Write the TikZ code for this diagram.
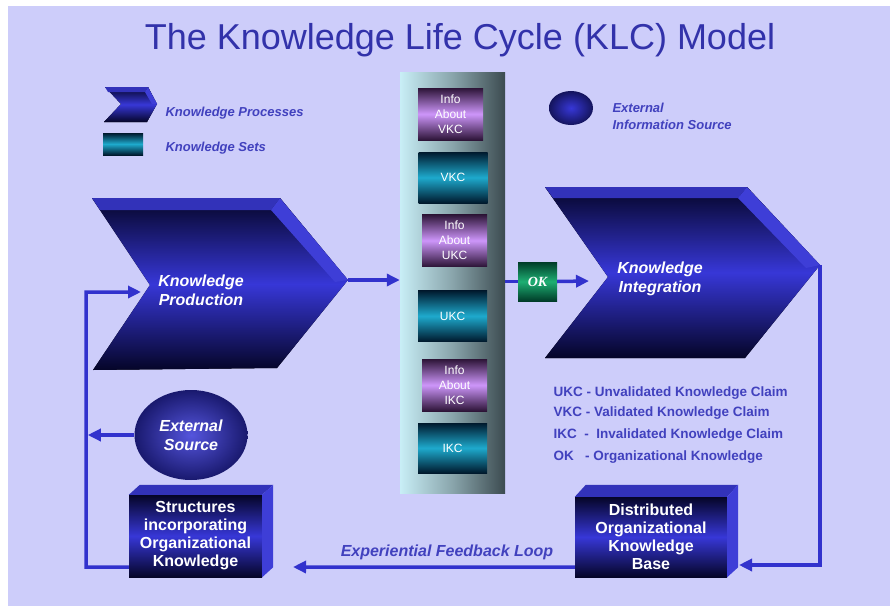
\documentclass[tikz,border=0pt]{standalone}
\usepackage{fontspec}
\setmainfont{Liberation Sans}
\newfontfamily\serifok{Liberation Serif}
\usetikzlibrary{arrows.meta,shapes.geometric}
\definecolor{bg}{RGB}{205,205,250}
\definecolor{ttl}{RGB}{50,50,170}
\definecolor{lbl}{RGB}{65,65,190}
\definecolor{ln}{RGB}{50,50,205}
\definecolor{navy}{RGB}{5,5,40}
\definecolor{brt}{RGB}{55,55,215}
\definecolor{bevtop}{RGB}{50,50,185}
\definecolor{bevside}{RGB}{62,62,215}
\definecolor{tealD}{RGB}{0,25,45}
\definecolor{tealM}{RGB}{30,170,205}
\definecolor{purD}{RGB}{45,20,55}
\definecolor{purM}{RGB}{205,150,250}
\definecolor{grnD}{RGB}{0,60,40}
\definecolor{grnM}{RGB}{30,175,115}
\definecolor{colL}{RGB}{200,238,246}
\definecolor{colR}{RGB}{60,75,80}
\tikzset{
  conn/.style={draw=ln, line width=3.5pt, -{Triangle[length=13pt,width=12pt]}},
  plainln/.style={draw=ln, line width=3.5pt},
  bodyshade/.style={top color=navy, bottom color=navy, middle color=brt},
  kset/.style={minimum width=69pt, minimum height=51pt, inner sep=0pt,
    top color=tealD, bottom color=tealD, middle color=tealM,
    text=white, font=\fontsize{12}{15}\selectfont, align=center},
  kinfo/.style={minimum width=65pt, minimum height=52pt, inner sep=0pt,
    top color=purD, bottom color=purD, middle color=purM,
    text=white, font=\fontsize{12}{15}\selectfont, align=center},
  front3d/.style={inner sep=0pt, bodyshade, text=white,
    font=\bfseries\fontsize{16}{18}\selectfont, align=center},
  chevtext/.style={text=white, font=\bfseries\itshape\fontsize{16}{19}\selectfont, align=center},
  legtext/.style={text=lbl, font=\bfseries\itshape\fontsize{13}{16}\selectfont, anchor=west, align=left},
  abbr/.style={text=lbl, font=\bfseries\fontsize{13.5}{16}\selectfont, anchor=west},
}
\begin{document}
\begin{tikzpicture}[x=1pt,y=-1pt]
\useasboundingbox (0,0) rectangle (894,613);
\fill[white] (0,0) rectangle (894,613);
\fill[bg] (8,6) rectangle (890,606);

% title
\node[text=ttl, font=\fontsize{36}{40}\selectfont] (title) at (460,40) {The Knowledge Life Cycle (KLC) Model};

% legend
\fill[bodyshade] (105,87) -- (148,87) -- (157,104) -- (147,122) -- (104,122) -- (121,104) -- cycle;
\fill[bevtop] (105,87) -- (148,87) -- (145,92) -- (108,92) -- cycle;
\fill[bevside] (148,87) -- (157,104) -- (152,104) -- (145,92) -- cycle;
\node[legtext] (lgp) at (162,113) {Knowledge Processes};
\node[minimum width=40pt, minimum height=22pt, inner sep=0pt, top color=tealD, bottom color=tealD, middle color=tealM] (lgsbox) at (123,144) {};
\node[legtext] (lgs) at (162,148) {Knowledge Sets};
\node[ellipse, minimum width=44pt, minimum height=34pt, inner sep=0pt, inner color=brt, outer color=navy!70!brt] (lge) at (571,108) {};
\node[legtext, font=\bfseries\itshape\fontsize{13}{17}\selectfont] (lget) at (609,116) {External\\Information Source};

% central column
\node[minimum width=105pt, minimum height=421pt, inner sep=0pt, left color=colL, right color=colR, middle color=colL!55!colR] (col) at (452.5,282.5) {};
\node[kinfo] (iv) at (450.5,114) {Info\\About\\VKC};
\node[kset] (vkc) at (453,177.5) {VKC};
\node[kinfo] (iu) at (454.5,240.5) {Info\\About\\UKC};
\node[kset] (ukc) at (452.5,316) {UKC};
\node[kinfo] (ii) at (454.5,385) {Info\\About\\IKC};
\node[kset, minimum height=50pt] (ikc) at (452.5,448) {IKC};

% Knowledge Production chevron
\fill[bodyshade] (92,198) -- (280,198) -- (348,280) -- (277,368) -- (93,370) -- (150,285) -- cycle;
\fill[bevtop] (92,198) -- (280,198) -- (271,210) -- (100,210) -- cycle;
\fill[bevside] (280,198) -- (348,280) -- (335,282) -- (271,210) -- cycle;
\coordinate (kpTip) at (348,280);
\coordinate (kpIn) at (141,292);
\node[chevtext] (kp) at (201,290) {Knowledge\\Production};

% Knowledge Integration chevron
\fill[bodyshade] (545,187) -- (747,187) -- (820,265) -- (745,358) -- (545,358) -- (608,277) -- cycle;
\fill[bevtop] (545,187) -- (747,187) -- (738,198) -- (553,198) -- cycle;
\fill[bevside] (747,187) -- (820,265) -- (806,268) -- (738,198) -- cycle;
\coordinate (kiTip) at (820,265);
\coordinate (kiIn) at (589,281);
\node[chevtext] (ki) at (660,279) {Knowledge\\Integration};

% OK box
\node[minimum width=39pt, minimum height=39pt, inner sep=0pt, top color=grnD, bottom color=grnD, middle color=grnM, text=white, font=\serifok\bfseries\itshape\fontsize{14}{16}\selectfont] (ok) at (537.5,281.5) {OK};

% abbreviations
\node[abbr] (a1) at (550,393) {UKC - Unvalidated Knowledge Claim};
\node[abbr] (a2) at (550,413) {VKC - Validated Knowledge Claim};
\node[abbr] (a3) at (550,435) {IKC \ - \ Invalidated Knowledge Claim};
\node[abbr] (a4) at (550,457) {OK \ \ - Organizational Knowledge};

% External Source
\node[ellipse, minimum width=113pt, minimum height=90pt, inner sep=0pt, inner color=brt!85!white, outer color=navy!60!brt, text=white, font=\bfseries\itshape\fontsize{16}{19}\selectfont, align=center] (es) at (191,435) {External\\Source};

% Structures box
\node[front3d, minimum width=133pt, minimum height=82pt] (soi) at (195.5,536) {Structures\\incorporating\\Organizational\\Knowledge};
\fill[bevtop] (soi.north west) -- ++(11,-10) -- ([xshift=11pt,yshift=10pt]soi.north east) -- (soi.north east) -- cycle;
\fill[bevside] (soi.north east) -- ++(11,-10) -- ([xshift=11pt,yshift=10pt]soi.south east) -- (soi.south east) -- cycle;

% Distributed box
\node[front3d, minimum width=152pt, minimum height=80pt] (dob) at (651,537) {Distributed\\Organizational\\Knowledge\\Base};
\fill[bevtop] (dob.north west) -- ++(11,-12) -- ([xshift=11pt,yshift=12pt]dob.north east) -- (dob.north east) -- cycle;
\fill[bevside] (dob.north east) -- ++(11,-12) -- ([xshift=11pt,yshift=10pt]dob.south east) -- (dob.south east) -- cycle;

% connectors
\coordinate (dobIn) at (739,565);
\coordinate (fbEnd) at (293,567);
\coordinate (loopB) at (86,567);
\coordinate (loopT) at (86,292);
\draw[conn] (kpTip) -- (kpTip -| col.west);
\draw[plainln] (col.east |- ok.west) -- (ok.west);
\draw[conn] (ok.east) -- (kiIn);
\draw[conn] (kiTip) -- (kiTip |- dobIn) -- (dobIn);
\draw[conn] ([yshift=10pt]dob.south west) -- (fbEnd);
\draw[conn] ([yshift=10pt]soi.south west) -- (loopB) -- (loopT) -- (kpIn);
\draw[conn] (es.west) -- ([xshift=1.75pt]es.west -| loopB);
\node[text=lbl, font=\bfseries\itshape\fontsize{16}{19}\selectfont] (fbl) at (447,552) {Experiential Feedback Loop};
\end{tikzpicture}
\end{document}
